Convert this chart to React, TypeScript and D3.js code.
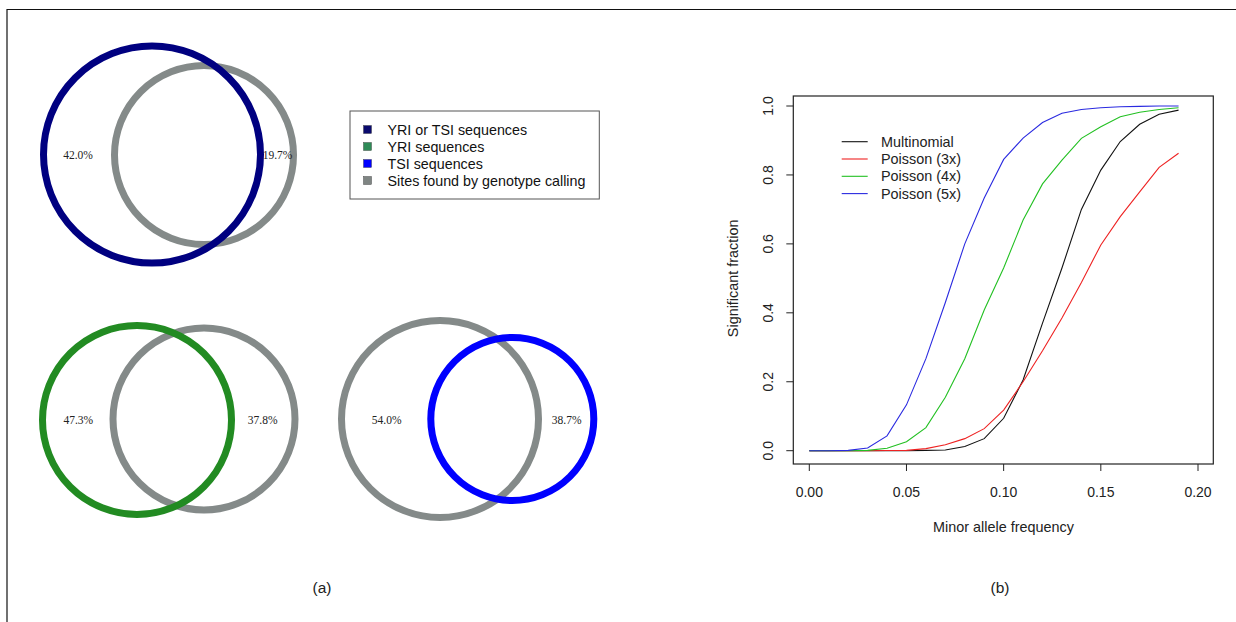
import React from "react";
import * as d3 from "d3";

// ---- Panel (b) data: significant fraction vs minor allele frequency ----
const maf = [0.0, 0.01, 0.02, 0.03, 0.04, 0.05, 0.06, 0.07, 0.08, 0.09, 0.1, 0.11, 0.12, 0.13, 0.14, 0.15, 0.16, 0.17, 0.18, 0.19];
const multinomial = [0, 0, 0, 0, 0, 0, 0.001, 0.002, 0.012, 0.035, 0.094, 0.205, 0.37, 0.53, 0.7, 0.814, 0.897, 0.947, 0.976, 0.988];
const poisson3x = [0, 0, 0, 0, 0.0005, 0.001, 0.006, 0.017, 0.035, 0.064, 0.118, 0.2, 0.29, 0.385, 0.488, 0.597, 0.679, 0.751, 0.822, 0.863];
const poisson4x = [0, 0, 0, 0.001, 0.007, 0.026, 0.067, 0.155, 0.267, 0.408, 0.53, 0.669, 0.774, 0.843, 0.906, 0.94, 0.969, 0.982, 0.99, 0.995];
const poisson5x = [0, 0, 0.001, 0.008, 0.043, 0.133, 0.267, 0.43, 0.6, 0.733, 0.845, 0.907, 0.952, 0.979, 0.99, 0.995, 0.998, 0.999, 1.0, 1.0];
const seriesNames = ["Multinomial", "Poisson (3x)", "Poisson (4x)", "Poisson (5x)"];
const seriesColors = ["#111111", "#ee2222", "#22c022", "#2a2ae0"];
const xTicks = [0, 0.05, 0.1, 0.15, 0.2];
const yTicks = [0, 0.2, 0.4, 0.6, 0.8, 1.0];

// ---- Panel (a) data: Venn percentages and legend ----
const legendLabels = ["YRI or TSI sequences", "YRI sequences", "TSI sequences", "Sites found by genotype calling"];
const legendColors = ["#0a0a6e", "#2e8b57", "#0000ff", "#7f8583"];
const vennTopLabels = ["42.0%", "19.7%"];
const vennYriLabels = ["47.3%", "37.8%"];
const vennTsiLabels = ["54.0%", "38.7%"];

const GRAY = "#848a89";

type Ring = { cx: number; cy: number; r: number; color: string };
type Venn = { rings: Ring[]; labels: string[]; labelX: number[]; labelY: number };

const venns: Venn[] = [
  {
    rings: [
      { cx: 204, cy: 155, r: 89.5, color: GRAY },
      { cx: 152, cy: 154.5, r: 108.5, color: "#000080" },
    ],
    labels: vennTopLabels,
    labelX: [78, 277.5],
    labelY: 155,
  },
  {
    rings: [
      { cx: 204, cy: 419, r: 91, color: GRAY },
      { cx: 137, cy: 420, r: 94.5, color: "#228b22" },
    ],
    labels: vennYriLabels,
    labelX: [78.3, 262.7],
    labelY: 420,
  },
  {
    rings: [
      { cx: 440, cy: 419, r: 98.5, color: GRAY },
      { cx: 512.3, cy: 419, r: 81.5, color: "#0000ff" },
    ],
    labels: vennTsiLabels,
    labelX: [386.7, 566.7],
    labelY: 420,
  },
];

const SANS = "'Liberation Sans', Arial, Helvetica, sans-serif";
const SERIF = "'Liberation Serif', 'Times New Roman', serif";

export default function App() {
  const W = 1236;
  const H = 622;

  const x = d3.scaleLinear().domain([0, 0.2]).range([809.3, 1198]);
  const y = d3.scaleLinear().domain([0, 1]).range([450.7, 106]);
  const box = { left: 793.3, right: 1213.3, top: 96, bottom: 464 };

  const series = [multinomial, poisson3x, poisson4x, poisson5x];
  const line = d3
    .line<number>()
    .x((_, i) => x(maf[i]))
    .y((v) => y(v));

  const legendRowY = [141.7, 159, 176.3, 193.6];

  return (
    <svg
      width={W}
      height={H}
      style={{ position: "absolute", left: 0, top: 0, background: "#fff" }}
    >
      <rect x={0} y={0} width={W} height={H} fill="#fff" />
      {/* frame */}
      <line x1={7} y1={9.5} x2={W} y2={9.5} stroke="#111" strokeWidth={1.2} />
      <line x1={7} y1={9} x2={7} y2={H} stroke="#111" strokeWidth={1.2} />

      {/* Panel (a): Venn rings */}
      {venns.map((v, vi) => (
        <g key={vi}>
          {v.rings.map((c, ci) => (
            <circle key={ci} cx={c.cx} cy={c.cy} r={c.r} fill="none" stroke={c.color} strokeWidth={7} />
          ))}
          {v.labels.map((t, ti) => (
            <text
              key={ti}
              x={v.labelX[ti]}
              y={v.labelY}
              textAnchor="middle"
              dominantBaseline="central"
              fontFamily={SERIF}
              fontSize={11.5}
              fill="#222"
            >
              {t}
            </text>
          ))}
        </g>
      ))}

      {/* Panel (a): legend */}
      <rect x={350} y={111} width={249.3} height={88} fill="#fff" stroke="#555" strokeWidth={1} />
      {legendLabels.map((t, i) => {
        const cy = 129.5 + i * 17;
        return (
          <g key={i}>
            <rect x={363.5} y={cy - 4} width={8} height={8} fill={legendColors[i]} stroke="#333" strokeWidth={0.4} />
            <text x={387.5} y={cy} dominantBaseline="central" fontFamily={SANS} fontSize={14.3} fill="#111">
              {t}
            </text>
          </g>
        );
      })}

      {/* Panel (b): plot box */}
      <rect
        x={box.left}
        y={box.top}
        width={box.right - box.left}
        height={box.bottom - box.top}
        fill="none"
        stroke="#222"
        strokeWidth={1.2}
      />

      {/* x axis */}
      {xTicks.map((t) => (
        <g key={t}>
          <line x1={x(t)} x2={x(t)} y1={box.bottom} y2={box.bottom + 7} stroke="#222" strokeWidth={1} />
          <text x={x(t)} y={492} textAnchor="middle" dominantBaseline="central" fontFamily={SANS} fontSize={14} fill="#222">
            {t.toFixed(2)}
          </text>
        </g>
      ))}
      <text x={1003.5} y={527} textAnchor="middle" dominantBaseline="central" fontFamily={SANS} fontSize={14.4} fill="#222">
        Minor allele frequency
      </text>

      {/* y axis */}
      {yTicks.map((t) => (
        <g key={t}>
          <line x1={box.left} x2={box.left - 7} y1={y(t)} y2={y(t)} stroke="#222" strokeWidth={1} />
          <text
            transform={`translate(${768},${y(t)}) rotate(-90)`}
            textAnchor="middle"
            dominantBaseline="central"
            fontFamily={SANS}
            fontSize={14}
            fill="#222"
          >
            {t.toFixed(1)}
          </text>
        </g>
      ))}
      <text
        transform={`translate(${733},${(y(0) + y(1)) / 2}) rotate(-90)`}
        textAnchor="middle"
        dominantBaseline="central"
        fontFamily={SANS}
        fontSize={14.4}
        fill="#222"
      >
        Significant fraction
      </text>

      {/* series */}
      {series.map((s, i) => (
        <path key={i} d={line(s) ?? ""} fill="none" stroke={seriesColors[i]} strokeWidth={1.1} />
      ))}

      {/* in-plot legend */}
      {seriesNames.map((n, i) => (
        <g key={n}>
          <line x1={841.7} x2={867.7} y1={legendRowY[i]} y2={legendRowY[i]} stroke={seriesColors[i]} strokeWidth={1.1} />
          <text x={881} y={legendRowY[i]} dominantBaseline="central" fontFamily={SANS} fontSize={14.4} fill="#222">
            {n}
          </text>
        </g>
      ))}

      {/* panel captions */}
      <text x={322} y={587} textAnchor="middle" dominantBaseline="central" fontFamily={SANS} fontSize={15.5} fill="#222">
        (a)
      </text>
      <text x={1000} y={587} textAnchor="middle" dominantBaseline="central" fontFamily={SANS} fontSize={15.5} fill="#222">
        (b)
      </text>
    </svg>
  );
}
